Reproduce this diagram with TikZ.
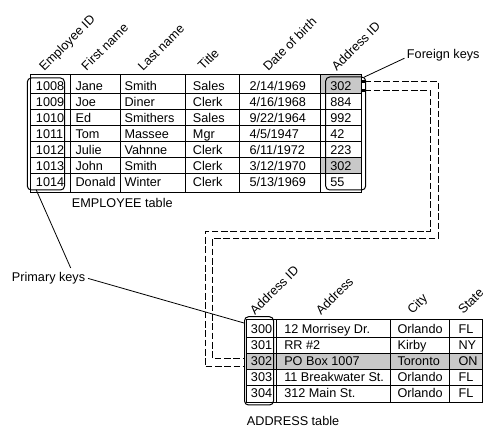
\documentclass[tikz,border=0pt]{standalone}
\usepackage{fontspec}
\setmainfont{Liberation Sans}
\usetikzlibrary{arrows.meta}
\definecolor{keyshade}{RGB}{200,200,200}
\begin{document}
\begin{tikzpicture}[x=0.75pt,y=-0.75pt,
  txt/.style={anchor=base west,inner sep=0pt,font=\fontsize{9.5}{11}\selectfont},
  hdr/.style={txt,rotate=45},
  gridline/.style={line width=0.75pt},
  keybox/.style={draw,line width=0.75pt,rounded corners=3pt,inner sep=0pt},
  fkline/.style={line width=0.75pt,dash pattern=on 5pt off 2pt,{Square[length=2.4pt,width=2.4pt]}-},
  lead/.style={line width=0.6pt}]
\fill[white] (0,0) rectangle (500,448);
\useasboundingbox (0,0) rectangle (500,448);

% ---------- EMPLOYEE table ----------
\fill[keyshade] (320.3,75) rectangle (361.7,93.3);
\fill[keyshade] (320.3,157.3) rectangle (361.7,173.8);
\draw[gridline] (30,75) rectangle (361.7,192.5);
\foreach \x in {70.3,120.3,185.3,239.7,320.3}
  \draw[gridline] (\x,75) -- (\x,192.5);
\foreach \y in {93.3,109.3,125.3,141.3,157.3,173.8}
  \draw[gridline] (30,\y) -- (361.7,\y);

\node[hdr] (hEid) at (44.3,71.7) {Employee ID};
\node[hdr] (hFn) at (86.5,71.5) {First name};
\node[hdr] (hLn) at (143,71.7) {Last name};
\node[hdr] (hTi) at (203,71) {Title};
\node[hdr] (hDob) at (268.3,71.7) {Date of birth};
\node[hdr] (hAid) at (336.7,71.7) {Address ID};

\foreach \id/\fn/\ln/\ti/\dob/\aid [count=\r] in {
  1008/Jane/Smith/Sales/{2/14/1969}/302,
  1009/Joe/Diner/Clerk/{4/16/1968}/884,
  1010/Ed/Smithers/Sales/{9/22/1964}/992,
  1011/Tom/Massee/Mgr/{4/5/1947}/42,
  1012/Julie/Vahnne/Clerk/{6/11/1972}/223,
  1013/John/Smith/Clerk/{3/12/1970}/302,
  1014/Donald/Winter/Clerk/{5/13/1969}/55}{
  \pgfmathsetmacro{\yb}{91+16*(\r-1)}
  \node[txt] (e\r a) at (35.7,\yb) {\id};
  \node[txt] (e\r b) at (75.3,\yb) {\fn};
  \node[txt] (e\r c) at (124.3,\yb) {\ln};
  \node[txt] (e\r d) at (192.7,\yb) {\ti};
  \node[txt] (e\r e) at (249.3,\yb) {\dob};
  \node[txt] (e\r f) at (330,\yb) {\aid};
}
\node[keybox,minimum width=27.9pt,minimum height=84pt] (empid) at (45.9,134) {};
\node[keybox,minimum width=30pt,minimum height=84.75pt] (empaid) at (345.7,133.5) {};
\node[txt] (emptitle) at (71.7,207.5) {EMPLOYEE table};

% ---------- ADDRESS table ----------
\fill[keyshade] (246.7,354) rectangle (482.7,370);
\draw[gridline] (246.7,319.3) rectangle (482.7,402.7);
\foreach \x in {276.7,390.7,449.3}
  \draw[gridline] (\x,319.3) -- (\x,402.7);
\foreach \y in {338,354,370,386}
  \draw[gridline] (246.7,\y) -- (482.7,\y);

\node[hdr] (hAid2) at (255,316) {Address ID};
\node[hdr] (hAdr) at (321,316) {Address};
\node[hdr] (hCity) at (412.5,315) {City};
\node[hdr] (hState) at (463.3,315) {State};

\foreach \aid/\adr/\city/\st [count=\r] in {
  300/12 Morrisey Dr./Orlando/FL,
  301/RR \#2/Kirby/NY,
  302/PO Box 1007/Toronto/ON,
  303/11 Breakwater St./Orlando/FL,
  304/312 Main St./Orlando/FL}{
  \pgfmathsetmacro{\yb}{334+16*(\r-1)}
  \node[txt] (a\r a) at (250.7,\yb) {\aid};
  \node[txt] (a\r b) at (284,\yb) {\adr};
  \node[txt] (a\r c) at (397.3,\yb) {\city};
  \node[txt] (a\r d) at (458.3,\yb) {\st};
}
\node[keybox,minimum width=21.75pt,minimum height=66.2pt] (addid) at (259,360.85) {};
\node[txt] (addtitle) at (246.7,425.7) {ADDRESS table};

% ---------- labels and leaders ----------
\node[txt] (fklabel) at (406.7,59) {Foreign keys};
\draw[lead] ([xshift=-1.7pt,yshift=-1.9pt]fklabel.west) -- ([xshift=-1.6pt,yshift=-0.5pt]empaid.north east);

\node[txt] (pklabel) at (11.7,281.7) {Primary keys};
\draw[lead] ([xshift=7pt,yshift=0.6pt]empid.south west) -- ([xshift=16.6pt,yshift=3.2pt]pklabel.north);
\draw[lead] ([xshift=2pt]pklabel.east) -- ([yshift=-5.1pt]addid.north west);

% ---------- foreign key connectors ----------
\coordinate (fkA) at (362,81.5);
\coordinate (fkB) at (361.5,90.5);
\draw[fkline] (fkA) -| (438.3,238.3) -- (212.3,238.3) |- ([yshift=2.1pt]addid.west);
\draw[fkline] (fkB) -| (430.7,231.7) -- (205,231.7) |- ([yshift=-4.6pt]addid.west);
\end{tikzpicture}
\end{document}
